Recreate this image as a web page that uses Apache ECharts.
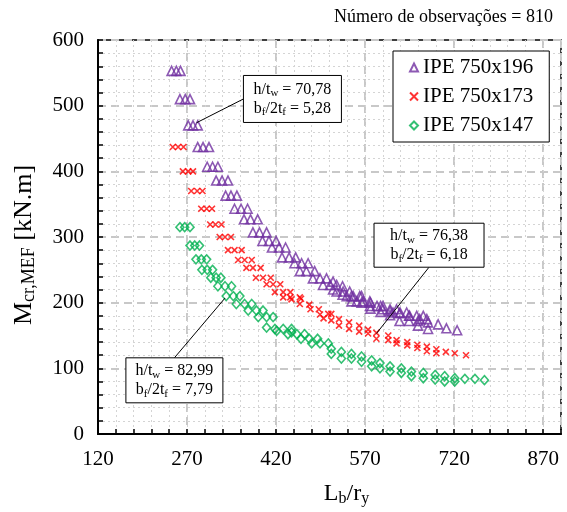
<!DOCTYPE html>
<html>
<head>
<meta charset="utf-8">
<script src="https://cdn.jsdelivr.net/npm/echarts@6/dist/echarts.min.js"></script>
<style>html,body{margin:0;padding:0;background:#fff}#c{width:567px;height:512px}</style>
</head>
<body>
<div id="c"></div>
<script>
// ---- data ----
const seriesNames = ['IPE 750x196', 'IPE 750x173', 'IPE 750x147'];

const x196 = [244,252,259, 258,267,275, 272,280,288, 288,297,307, 304,313,322, 319,329,339, 335,344,354,
  350,361,372, 366,377,389, 381,392,404, 397,408,420, 413,425,436, 430,442,453, 451,463,474, 460,471,485,
  482,494,505, 499,511,522, 522,533,544, 539,550,561, 556,567,578, 578,590,600, 600,612,623, 617,629,640,
  645,657,668, 662,674,
  516,516,532,532,547,547,564,564,579,579,596,596,612,612,628,628,644,644,659,659,676,676,693,707,725];
const y196 = [553,553,553, 510,510,510, 470,470,470, 437,437,437, 407,407,407, 386,386,386, 363,363,363,
  343,343,343, 327,327,327, 307,307,307, 294,294,294, 284,284,284, 269,269,269, 260,260,260, 248,248,248,
  237,237,237, 227,227,227, 217,217,217, 210,210,210, 202,202,202, 195,195,195, 190,190,190, 185,185,185,
  180,180,180, 175,175,
  232,220,225,212,210,202,210,200,200,191,195,186,187,181,184,172,180,172,172,165,170,160,167,161,158];

const x173 = [246,255,264, 263,272,280, 277,287,296, 294,303,312, 309,318,328, 325,334,344, 339,350,362,
  356,367,379, 370,381,394, 386,398,411, 404,415,427, 418,432,444, 432,444,460,
  446,460,462,476,478,492,494,508,500,
  513,513,526,526,543,543,560,560,575,575,589,589,609,609,623,623,641,641,658,658,674,674,690,690,706,721,740];
const y173 = [437,437,437, 400,400,400, 370,370,370, 343,343,343, 319,319,319, 300,300,300, 280,280,280,
  265,265,265, 253,253,253, 238,238,238, 228,228,228, 216,216,216, 208,208,208,
  205,198,206,197,190,190,182,183,176,
  183,173,175,165,170,160,165,156,159,153,154,145,150,143,143,138,140,135,136,131,133,126,129,123,125,123,120];

const x147 = [258,266,275, 275,283,291, 285,294,303, 295,304,313, 310,319,327, 322,334,345, 336,348,359,
  353,367,379, 373,387,398, 390,404,415, 404,421,446, 418,432,446, 440,455,468, 462,476,490, 480,494,508,
  513,513,530,530,547,547,564,564,581,581,595,595,612,612,631,631,648,648,668,668,688,688,704,704,721,721,738,755,771];
const y147 = [315,315,315, 287,287,287, 266,266,266, 250,250,250, 238,238,238, 225,225,225, 210,210,210,
  198,198,198, 188,188,188, 178,178,178, 162,157,155, 160,160,160, 152,152,152, 145,145,145, 138,138,138,
  130,122,125,115,122,115,118,110,112,103,108,100,103,95,100,93,95,88,93,85,90,83,88,80,85,80,84,84,82];

const xTicks = {min: 120, max: 900, major: 150, minor: 30};
const yTicks = {min: 0, max: 600, major: 100};

// annotations: target point and box top-left corner in data units
const notes = [
  {hw: '70,78', bf: '5,28', target: [286, 474], box: [365, 546], w: 98, h: 47, from: 'left'},
  {hw: '76,38', bf: '6,18', target: [589, 153], box: [585, 321], w: 110, h: 44, from: 'bottom'},
  {hw: '82,99', bf: '7,79', target: [334, 207], box: [167, 116], w: 97, h: 45, from: 'top'}
];

const zip = (xs, ys) => xs.map((x, i) => [x, ys[i]]);
const FONT = 'Liberation Serif';

const chart = echarts.init(document.getElementById('c'), null, {renderer: 'canvas'});

const crossPath = 'path://M0,0L10,10M10,0L0,10';
const xRich = {
  n: {fontFamily: FONT, fontSize: 24, color: '#000', lineHeight: 26},
  s: {fontFamily: FONT, fontSize: 16, color: '#000', lineHeight: 16, verticalAlign: 'bottom'}
};
const yRich = {
  n: {fontFamily: FONT, fontSize: 26, color: '#000', lineHeight: 28},
  s: {fontFamily: FONT, fontSize: 18, color: '#000', lineHeight: 18, verticalAlign: 'bottom'}
};
const option = {
  animation: false,
  backgroundColor: '#fff',
  grid: {left: 98, right: 6, top: 40, bottom: 72, show: true, borderColor: '#000', borderWidth: 1.5, backgroundColor: 'transparent'},
  xAxis: [{
    type: 'value', min: xTicks.min, max: xTicks.max, interval: xTicks.major,
    axisLine: {show: true, lineStyle: {color: '#000', width: 2}},
    axisTick: {show: false},
    axisLabel: {showMaxLabel: false, fontFamily: FONT, fontSize: 21, color: '#000', margin: 15},
    splitLine: {show: true, lineStyle: {color: '#c8c8c8', width: 2, type: [8, 5]}},
    name: '{n|L}{s|b}{n|/r}{s|y}', nameLocation: 'middle', nameGap: 47,
    nameTextStyle: {rich: xRich, padding: [0, 0, 0, 34]}
  }, {
    type: 'value', min: xTicks.min, max: xTicks.max, interval: xTicks.minor, position: 'bottom',
    axisLine: {show: false},
    axisTick: {show: true, inside: true, length: 5, lineStyle: {color: '#000', width: 1.5}},
    axisLabel: {show: false},
    splitLine: {show: true, lineStyle: {color: '#d4d4d4', width: 1, type: [2, 3]}}
  }],
  yAxis: {
    type: 'value', min: yTicks.min, max: yTicks.max, interval: yTicks.major,
    axisLine: {show: true, lineStyle: {color: '#000', width: 2}},
    axisTick: {show: true, inside: true, length: 5, lineStyle: {color: '#000', width: 1.5}},
    minorTick: {show: true, splitNumber: 5, length: 5, lineStyle: {color: '#000', width: 1.5}},
    axisLabel: {fontFamily: FONT, fontSize: 21, color: '#000', margin: 14},
    splitLine: {show: true, lineStyle: {color: '#c8c8c8', width: 2, type: [8, 5]}},
    minorSplitLine: {show: true, lineStyle: {color: '#d4d4d4', width: 1, type: [2, 3]}},
    name: '{n|M}{s|cr,MEF}{n| [kN.m]}', nameLocation: 'middle', nameRotate: 90, nameGap: 60,
    nameTextStyle: {rich: yRich, padding: [0, 16, 0, 0]}
  },
  legend: {
    orient: 'vertical', left: 393, top: 51, backgroundColor: '#fff',
    borderColor: '#000', borderWidth: 1, padding: [6, 16, 6, 16], itemGap: 8,
    itemWidth: 8, itemHeight: 8,
    textStyle: {fontFamily: FONT, fontSize: 21, color: '#000'},
    data: seriesNames
  },
  series: [
    {name: seriesNames[0], type: 'scatter', data: zip(x196, y196), symbol: 'triangle', symbolSize: [9, 9],
     itemStyle: {color: 'rgba(0,0,0,0)', borderColor: '#7030A0', borderWidth: 1.6}},
    {name: seriesNames[1], type: 'scatter', data: zip(x173, y173), symbol: crossPath, symbolSize: 6,
     itemStyle: {color: 'rgba(0,0,0,0)', borderColor: '#FF0000', borderWidth: 1.6}},
    {name: seriesNames[2], type: 'scatter', data: zip(x147, y147), symbol: 'diamond', symbolSize: [8, 9],
     itemStyle: {color: 'rgba(0,0,0,0)', borderColor: '#00B050', borderWidth: 1.6}}
  ]
};
chart.setOption(option);

const gfx = [{
  type: 'text', right: 14, top: 8,
  style: {text: 'Número de observações = 810', font: '18px "Liberation Serif"', fill: '#000'}
}];
const rich = {
  n: {fontFamily: FONT, fontSize: 16, color: '#000', lineHeight: 19},
  s: {fontFamily: FONT, fontSize: 11, color: '#000', lineHeight: 12, verticalAlign: 'bottom'}
};
notes.forEach(nt => {
  const t = chart.convertToPixel({gridIndex: 0}, nt.target);
  const b = chart.convertToPixel({gridIndex: 0}, nt.box);
  let s;
  if (nt.from === 'left') s = [b[0], b[1] + nt.h / 2];
  else if (nt.from === 'bottom') s = [b[0] + nt.w / 2, b[1] + nt.h];
  else s = [b[0] + nt.w * 0.5, b[1]];
  gfx.push({type: 'line', shape: {x1: s[0], y1: s[1], x2: t[0], y2: t[1]}, style: {stroke: '#000', lineWidth: 1}, z: 100});
  gfx.push({type: 'rect', shape: {x: b[0], y: b[1], width: nt.w, height: nt.h}, style: {fill: '#fff', stroke: '#000', lineWidth: 1}, z: 101});
  gfx.push({type: 'text', x: b[0] + nt.w / 2, y: b[1] + nt.h / 2, z: 102,
    style: {text: '{n|h/t}{s|w}{n| = ' + nt.hw + '}\n{n|b}{s|f}{n|/2t}{s|f}{n| = ' + nt.bf + '}',
      rich: rich, align: 'center', verticalAlign: 'middle'}});
});
chart.setOption({graphic: gfx});
</script>
</body>
</html>
